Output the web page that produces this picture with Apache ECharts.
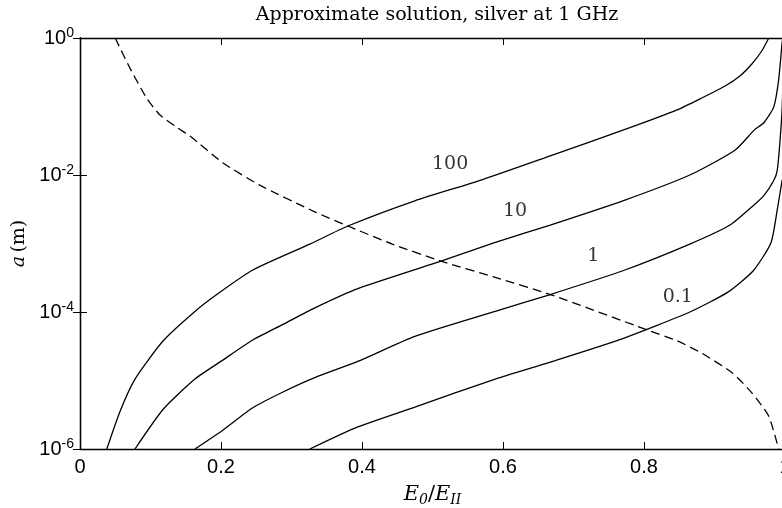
<!DOCTYPE html>
<html>
<head>
<meta charset="utf-8">
<script src="https://cdn.jsdelivr.net/npm/echarts@6/dist/echarts.min.js"></script>
<style>
  html, body { margin: 0; padding: 0; background: #fff; }
  #chart { width: 782px; height: 508px; }
</style>
</head>
<body>
<div id="chart"></div>
<script>
// E0/EII values and radius a (m)
const curve100 = [
  [0.038, 1.0e-6], [0.057, 3.6e-6], [0.078, 1.05e-5], [0.118, 3.8e-5],
  [0.163, 1.02e-4], [0.194, 1.8e-4], [0.245, 4.1e-4], [0.326, 9.8e-4],
  [0.380, 1.8e-3], [0.475, 4.2e-3], [0.570, 8.5e-3], [0.667, 1.9e-2],
  [0.780, 4.9e-2], [0.847, 8.9e-2], [0.882, 0.133], [0.915, 0.199],
  [0.936, 0.279], [0.953, 0.418], [0.967, 0.646], [0.977, 1.0]
];
const curve10 = [
  [0.078, 1.0e-6], [0.118, 3.8e-6], [0.163, 1.05e-5], [0.203, 2.0e-5],
  [0.245, 3.9e-5], [0.288, 6.6e-5], [0.333, 1.15e-4], [0.394, 2.2e-4],
  [0.511, 5.5e-4], [0.587, 1.02e-3], [0.667, 1.86e-3], [0.770, 4.2e-3],
  [0.865, 1.0e-2], [0.929, 2.3e-2], [0.957, 4.6e-2], [0.970, 5.8e-2],
  [0.984, 9.8e-2], [0.991, 0.245], [0.996, 0.87], [0.997, 1.0]
];
const curve1 = [
  [0.163, 1.0e-6], [0.203, 1.9e-6], [0.245, 4.0e-6], [0.288, 6.8e-6],
  [0.333, 1.1e-5], [0.394, 1.9e-5], [0.475, 4.4e-5], [0.589, 1.02e-4],
  [0.667, 1.8e-4], [0.770, 4.0e-4], [0.865, 9.8e-4], [0.922, 1.86e-3],
  [0.954, 3.5e-3], [0.970, 5.0e-3], [0.984, 8.3e-3], [0.989, 1.17e-2],
  [0.993, 3.2e-2], [0.996, 9.8e-2], [0.999, 1.0]
];
const curve01 = [
  [0.326, 1.0e-6], [0.394, 2.1e-6], [0.475, 4.1e-6], [0.589, 1.05e-5],
  [0.667, 1.86e-5], [0.770, 4.1e-5], [0.865, 1.0e-4], [0.919, 1.95e-4],
  [0.955, 4.0e-4], [0.980, 1.02e-3], [0.989, 3.1e-3], [0.996, 8.5e-3]
];
const dashedCurve = [
  [0.050, 1.0], [0.071, 0.36], [0.095, 0.13], [0.113, 7.6e-2],
  [0.138, 4.9e-2], [0.156, 3.7e-2], [0.203, 1.5e-2], [0.255, 7.1e-3],
  [0.333, 2.9e-3], [0.380, 1.8e-3], [0.443, 9.8e-4], [0.513, 5.5e-4],
  [0.589, 3.2e-4], [0.667, 1.8e-4], [0.804, 5.5e-5], [0.847, 3.8e-5],
  [0.882, 2.5e-5], [0.925, 1.3e-5], [0.953, 6.6e-6],
  [0.977, 3.0e-6], [0.991, 1.0e-6]
];
// curve labels, placed in data coordinates
const curveLabels = [
  { name: '100', value: [0.525, 1.45e-2] },
  { name: '10', value: [0.617, 3.0e-3] },
  { name: '1', value: [0.728, 6.6e-4] },
  { name: '0.1', value: [0.848, 1.66e-4] }
];
const titleText = 'Approximate solution, silver at 1 GHz';

const chart = echarts.init(document.getElementById('chart'));

const axisLine = { show: true, lineStyle: { color: '#000', width: 1.3 } };
const axisTick = { show: true, inside: true, length: 7, lineStyle: { color: '#000', width: 1 } };
const serif = 'DejaVu Serif';

function curve(data, dashed) {
  return {
    type: 'line', data: data, showSymbol: false, symbol: 'none',
    smooth: 0.2, clip: true, silent: true,
    lineStyle: { color: '#000', width: 1.3, type: dashed ? [9, 5] : 'solid' }
  };
}

const option = {
  animation: false,
  backgroundColor: '#fff',
  title: {
    text: titleText,
    left: 432, top: 1, textAlign: 'center',
    textStyle: { fontFamily: serif, fontSize: 19, fontWeight: 'normal', color: '#000' }
  },
  grid: { left: 80, top: 38, width: 705, height: 411, containLabel: false, outerBoundsMode: 'none' },
  xAxis: [{
    type: 'value', min: 0, max: 1, interval: 0.2, position: 'bottom',
    axisLine: axisLine, axisTick: axisTick, splitLine: { show: false },
    axisLabel: {
      color: '#000', fontFamily: 'Liberation Sans', fontSize: 20, margin: 8,
      formatter: v => String(Math.round(v * 10) / 10)
    },
    name: '{e|E}{sub|0}{n|/}{e|E}{sub|II}',
    nameLocation: 'middle', nameGap: 34,
    nameTextStyle: {
      rich: {
        e: { fontFamily: serif, fontStyle: 'italic', fontSize: 21, color: '#000', lineHeight: 24, verticalAlign: 'middle' },
        n: { fontFamily: serif, fontSize: 21, color: '#000', lineHeight: 24, verticalAlign: 'middle' },
        sub: { fontFamily: serif, fontStyle: 'italic', fontSize: 14, color: '#000', lineHeight: 14, verticalAlign: 'bottom' }
      }
    }
  }, {
    type: 'value', min: 0, max: 1, interval: 0.2, position: 'top',
    axisLine: axisLine, axisTick: axisTick, splitLine: { show: false },
    axisLabel: { show: false }
  }],
  yAxis: [{
    type: 'log', logBase: 100, min: 1e-6, max: 1, position: 'left',
    axisLine: axisLine, axisTick: axisTick, splitLine: { show: false },
    minorTick: { show: false },
    axisLabel: {
      margin: 6, align: 'right',
      formatter: v => '{b|10}{s|' + Math.round(Math.log10(v)) + '}',
      rich: {
        b: { fontFamily: 'Liberation Sans', fontSize: 20, color: '#000', lineHeight: 24, verticalAlign: 'middle' },
        s: { fontFamily: 'Liberation Sans', fontSize: 14, color: '#000', lineHeight: 14, verticalAlign: 'top' }
      }
    },
    name: '{i|a} {n|(m)}',
    nameLocation: 'middle', nameGap: 47, nameRotate: 90,
    nameTextStyle: {
      rich: {
        i: { fontFamily: serif, fontStyle: 'italic', fontSize: 19, color: '#000' },
        n: { fontFamily: serif, fontSize: 19, color: '#000' }
      }
    }
  }, {
    type: 'log', logBase: 100, min: 1e-6, max: 1, position: 'right',
    axisLine: axisLine, axisTick: axisTick, splitLine: { show: false },
    minorTick: { show: false }, axisLabel: { show: false }
  }],
  series: [
    curve(curve100),
    curve(curve10),
    curve(curve1),
    curve(curve01),
    curve(dashedCurve, true),
    {
      type: 'scatter', data: curveLabels, symbolSize: 0, silent: true,
      label: {
        show: true, position: 'inside', formatter: p => p.name,
        fontFamily: serif, fontSize: 19, color: '#000'
      }
    }
  ]
};

chart.setOption(option);
</script>
</body>
</html>
